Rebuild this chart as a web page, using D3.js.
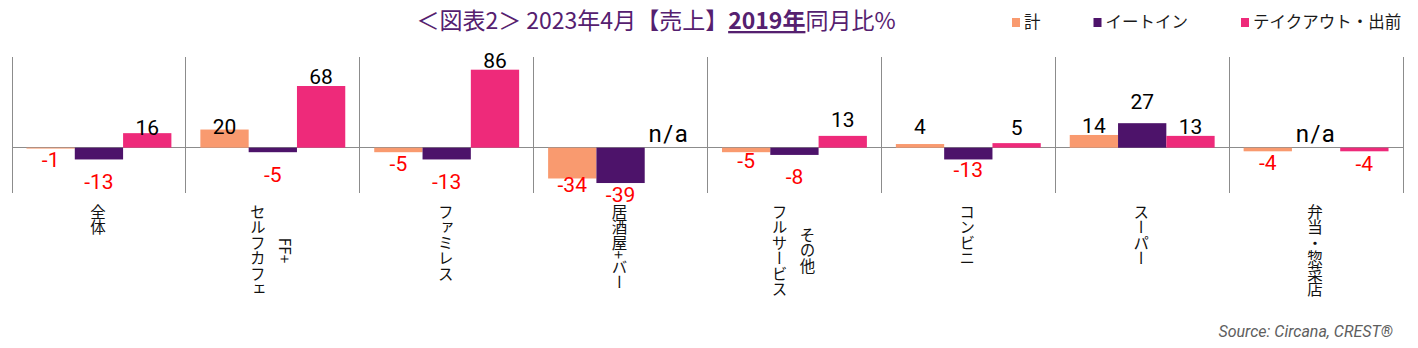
<!DOCTYPE html>
<html><head><meta charset="utf-8">
<script src="https://cdn.jsdelivr.net/npm/d3@7"></script>
<style>
body{margin:0;background:#fff;}
svg{display:block;}
</style></head><body>
<svg id="chart" width="1418" height="348"></svg>
<script>
// ---------- data ----------
const categories = ["全体", "セルフカフェ\nFF+", "ファミレス", "居酒屋+バー", "フルサービス\nその他", "コンビニ", "スーパー", "弁当・惣菜店"];
const seriesNames = ["計", "イートイン", "テイクアウト・出前"];
const totalValues   = [-1, 20, -5, -34, -5, 4, 14, -4];
const eatInValues   = [-13, -5, -13, -39, -8, -13, 27, null];
const takeoutValues = [16, 68, 86, null, 13, 5, 13, -4];
const yDomain = [-50, 100];
const titleParts = [
  {text: "＜図表2＞ 2023年4月【売上】", bold: false},
  {text: "2019年", bold: true},
  {text: "同月比%", bold: false}
];
const sourceText = "Source: Circana, CREST®";
const naText = "n/a";

// ---------- layout / style ----------
const W = 1418, H = 348;
const colors = ["#F99A6F", "#4D136A", "#EE2A7A"];
const plot = {left: 12, right: 1403, top: 57, bottom: 193};
const seriesValues = [totalValues, eatInValues, takeoutValues];
const negOffset = [11, 22, 12];   // label centre below bar end, per series
const posOffset = -9;              // label centre above bar end
// hand-placed label nudges of the original (category|series -> centre offset)
const labelNudge = {"0|2": -5.5, "1|0": -3, "4|2": -16, "5|0": -17, "5|2": -16, "6|1": -22,
                    "3|0": 6, "3|1": 12, "5|1": 10.5, "4|0": 8.5};

const svg = d3.select("#chart");
const font = "'Noto Sans CJK JP','Noto Sans',sans-serif";
const numFont = "Roboto,'Liberation Sans',sans-serif";

const x0 = d3.scaleBand().domain(d3.range(categories.length)).range([plot.left, plot.right]).paddingInner(0).paddingOuter(0);
const x1 = d3.scaleBand().domain(d3.range(seriesNames.length)).range([0, x0.bandwidth()]).paddingInner(0).paddingOuter(0.3);
const y = d3.scaleLinear().domain(yDomain).range([plot.bottom, plot.top]);

// title
const title = svg.append("text").attr("x", 656).attr("y", 29).attr("text-anchor", "middle")
  .attr("font-family", font).attr("font-size", 23).attr("fill", "#55206F");
titleParts.forEach(p => {
  title.append("tspan").text(p.text)
    .attr("font-weight", p.bold ? "bold" : "normal")
    .style("text-decoration", p.bold ? "underline" : "none");
});

// legend
let lx = 1012;
seriesNames.forEach((name, i) => {
  svg.append("rect").attr("x", lx).attr("y", 18).attr("width", 8).attr("height", 9).attr("fill", colors[i]);
  const t = svg.append("text").attr("x", lx + 12).attr("y", 27.5)
    .attr("font-family", font).attr("font-size", 16.5).attr("fill", "#1a1a1a").text(name);
  lx += 12 + t.node().getComputedTextLength() + 53;
});

// dividers
const bounds = d3.range(categories.length + 1).map(i => i < categories.length ? x0(i) : plot.right);
svg.append("g").selectAll("line").data(bounds).join("line")
  .attr("x1", d => d).attr("x2", d => d).attr("y1", plot.top).attr("y2", plot.bottom)
  .attr("stroke", "#8C8C8C").attr("stroke-width", 1).attr("shape-rendering", "crispEdges");

// zero line
svg.append("line").attr("x1", plot.left).attr("x2", plot.right).attr("y1", y(0)).attr("y2", y(0))
  .attr("stroke", "#8C8C8C").attr("stroke-width", 1).attr("shape-rendering", "crispEdges");

// bars
const barData = [];
categories.forEach((c, ci) => seriesValues.forEach((vals, si) => barData.push({ci, si, v: vals[ci]})));
const g = svg.append("g");
g.selectAll("rect").data(barData.filter(d => d.v !== null)).join("rect")
  .attr("x", d => x0(d.ci) + x1(d.si))
  .attr("width", x1.bandwidth())
  .attr("y", d => y(Math.max(0, d.v)))
  .attr("height", d => Math.abs(y(d.v) - y(0)))
  .attr("fill", d => colors[d.si]);

// value labels
const fs = 21;
g.selectAll("text.val").data(barData).join("text").attr("class", "val")
  .attr("x", d => x0(d.ci) + x1(d.si) + x1.bandwidth() / 2)
  .attr("y", d => {
    if (d.v === null) return y(0) - 6;
    const key = d.ci + "|" + d.si;
    let off = d.v >= 0 ? posOffset : negOffset[d.si];
    if (labelNudge[key] !== undefined) off = labelNudge[key];
    return y(d.v) + off + 0.355 * fs;
  })
  .attr("text-anchor", "middle").attr("font-family", numFont)
  .attr("font-size", d => d.v === null ? 24 : fs)
  .attr("letter-spacing", d => d.v === null ? 1.5 : 0)
  .attr("fill", d => d.v !== null && d.v < 0 ? "#FF0000" : "#000")
  .text(d => d.v === null ? naText : String(d.v));

// category labels (vertical)
const labTop = 204, lineGap = 28;
categories.forEach((c, ci) => {
  const lines = c.split("\n");
  const cx = x0(ci) + x0.bandwidth() / 2 - 1;
  const texts = lines.map((ln, li) => svg.append("text")
    .attr("x", cx + (li - (lines.length - 1) / 2) * lineGap)
    .attr("font-family", font).attr("font-size", 15.5).attr("fill", "#111")
    .style("writing-mode", "vertical-rl")
    .attr("text-anchor", "middle")
    .text(ln));
  const lens = texts.map(t => t.node().getComputedTextLength());
  const maxLen = d3.max(lens);
  texts.forEach(t => t.attr("y", labTop + maxLen / 2));
});

// source
svg.append("text").attr("x", 1393).attr("y", 337).attr("text-anchor", "end")
  .attr("font-family", numFont).attr("font-style", "italic").attr("font-size", 16)
  .attr("fill", "#5E5E5E").text(sourceText);
</script>
</body></html>
